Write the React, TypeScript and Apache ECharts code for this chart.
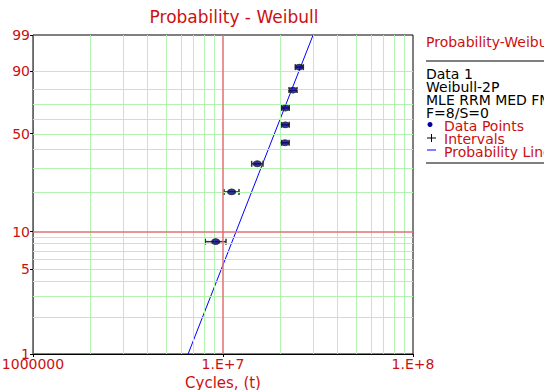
import React, { useEffect, useRef } from "react";
import * as echarts from "echarts";

// ---- data ----
const cycles = [9.15e6, 1.11e7, 1.515e7, 2.12e7, 2.128e7, 2.13e7, 2.335e7, 2.52e7];
const unreliability = [8.33, 20.24, 32.14, 44.05, 55.95, 67.86, 79.76, 91.67];
const intervalLow = [8.07e6, 1.012e7, 1.416e7, 2.03e7, 2.03e7, 2.03e7, 2.225e7, 2.402e7];
const intervalHigh = [1.037e7, 1.214e7, 1.624e7, 2.23e7, 2.23e7, 2.23e7, 2.452e7, 2.647e7];
const lineCycles = [6.55e6, 2.98e7];
const lineUnrel = [1, 99];
const yTickLabels = [1, 5, 10, 50, 90, 99];
const yGridMinor = [2, 3, 4, 5, 6, 7, 8, 9, 20, 30, 40, 50, 60, 70, 80, 90];
const yGridMajor = [10];
const xGridMinor = [2e6, 3e6, 4e6, 5e6, 6e6, 7e6, 8e6, 9e6, 2e7, 3e7, 4e7, 5e7, 6e7, 7e7, 8e7, 9e7];
const xGridMajor = [1e7];
const legendInfo = ["Data 1", "Weibull-2P", "MLE RRM MED FM", "F=8/S=0"];
const legendItems = ["Data Points", "Intervals", "Probability Line"];

const wb = (p: number) => Math.log(-Math.log(1 - p / 100));
const RED = "#cc1010";
const FONT = "DejaVu Sans";

export default function App() {
  const ref = useRef<HTMLDivElement>(null);
  useEffect(() => {
    if (!ref.current) return;
    const chart = echarts.init(ref.current, null, { renderer: "svg" });
    const green = { color: "#b4f2b4", width: 1, type: "solid" as const };
    const redLine = { color: "#e07070", width: 1.5, type: "solid" as const };
    const gridMarks = [
      ...xGridMinor.map((v) => ({ xAxis: v, lineStyle: green })),
      ...yGridMinor.map((v) => ({ yAxis: wb(v), lineStyle: green })),
      ...xGridMajor.map((v) => ({ xAxis: v, lineStyle: redLine })),
      ...yGridMajor.map((v) => ({ yAxis: wb(v), lineStyle: redLine })),
    ];
    const legendY0 = 74;
    const graphics: any[] = [
      { type: "text", x: 234, y: 17, style: { text: "Probability - Weibull", fill: RED, font: `17px "${FONT}"`, textAlign: "center", textVerticalAlign: "middle" } },
      { type: "text", x: 426, y: 42, style: { text: "Probability-Weibull", fill: RED, font: `14px "${FONT}"`, textVerticalAlign: "middle" } },
      { type: "line", shape: { x1: 426, y1: 61, x2: 544, y2: 61 }, style: { stroke: "#555", lineWidth: 1.5 } },
      { type: "line", shape: { x1: 426, y1: 163, x2: 544, y2: 163 }, style: { stroke: "#555", lineWidth: 1.5 } },
      ...legendInfo.map((t, i) => ({ type: "text", x: 426, y: legendY0 + i * 13, style: { text: t, fill: "#000", font: `14px "${FONT}"`, textVerticalAlign: "middle" } })),
      ...legendItems.map((t, i) => ({ type: "text", x: 444, y: legendY0 + (i + 4) * 13, style: { text: t, fill: RED, font: `14px "${FONT}"`, textVerticalAlign: "middle" } })),
      { type: "circle", shape: { cx: 430, cy: 124.5, r: 2.5 }, style: { fill: "#0000a0" } },
      { type: "line", shape: { x1: 427, y1: 138, x2: 436, y2: 138 }, style: { stroke: "#000", lineWidth: 1 } },
      { type: "line", shape: { x1: 431.5, y1: 134, x2: 431.5, y2: 142 }, style: { stroke: "#000", lineWidth: 1 } },
      { type: "line", shape: { x1: 427, y1: 150, x2: 436, y2: 150 }, style: { stroke: "#0000ff", lineWidth: 1 } },
    ];
    chart.setOption({
      animation: false,
      textStyle: { fontFamily: FONT },
      grid: {
        left: 33, top: 35, width: 380, height: 319,
        show: true, borderColor: "#000", borderWidth: 1, backgroundColor: "transparent",
        containLabel: false, outerBoundsMode: "none",
      },
      xAxis: {
        type: "log",
        logBase: 10,
        min: 1e6,
        max: 1e8,
        axisLine: { onZero: false, lineStyle: { color: "#000" } },
        axisTick: { show: true, length: 3, lineStyle: { color: "#000" } },
        splitLine: { show: false },
        minorTick: { show: false },
        axisLabel: {
          color: RED,
          fontSize: 14,
          margin: 3,
          formatter: (v: number) => (Math.abs(v - 1e6) < 1 ? "1000000" : "1.E+" + Math.round(Math.log10(v))),
        },
        name: "Cycles, (t)",
        nameLocation: "middle",
        nameGap: 19,
        nameTextStyle: { color: RED, fontSize: 15 },
      },
      yAxis: {
        type: "value",
        min: wb(1),
        max: wb(99),
        axisLine: { show: true, onZero: false, lineStyle: { color: "#666" } },
        axisTick: { show: true, length: 3, customValues: yTickLabels.map(wb), lineStyle: { color: "#000" } },
        splitLine: { show: false },
        axisLabel: {
          color: RED,
          fontSize: 14,
          margin: 3,
          customValues: yTickLabels.map(wb),
          formatter: (v: number) => String(Math.round(100 * (1 - Math.exp(-Math.exp(v))))),
        },
      },
      graphic: graphics,
      series: [
        {
          type: "line",
          z: 1,
          silent: true,
          symbol: "none",
          data: [[1e6, wb(1)]],
          lineStyle: { opacity: 0 },
          markLine: { silent: true, symbol: ["none", "none"], label: { show: false }, animation: false, data: gridMarks },
        },
        {
          type: "line",
          z: 3,
          symbol: "none",
          data: lineCycles.map((c, i) => [c, wb(lineUnrel[i])]),
          lineStyle: { color: "#0000ff", width: 1 },
        },
        {
          type: "custom",
          z: 4,
          data: intervalLow.map((l, i) => [l, intervalHigh[i], wb(unreliability[i])]),
          encode: { x: [0, 1], y: 2 },
          renderItem: (_p: any, api: any) => {
            const lo = api.coord([api.value(0), api.value(2)]);
            const hi = api.coord([api.value(1), api.value(2)]);
            const y = lo[1];
            const st = { stroke: "#333", lineWidth: 1.5 };
            return {
              type: "group",
              children: [
                { type: "line", shape: { x1: lo[0], y1: y, x2: hi[0], y2: y }, style: st },
                { type: "line", shape: { x1: lo[0], y1: y - 3, x2: lo[0], y2: y + 3 }, style: st },
                { type: "line", shape: { x1: hi[0], y1: y - 3, x2: hi[0], y2: y + 3 }, style: st },
              ],
            };
          },
        },
        {
          type: "scatter",
          z: 5,
          symbol: "circle",
          symbolSize: [8, 6],
          data: cycles.map((c, i) => [c, wb(unreliability[i])]),
          itemStyle: { color: "#00008b", borderColor: "#222", borderWidth: 1 },
        },
      ],
    });
    return () => chart.dispose();
  }, []);
  return <div ref={ref} style={{ position: "absolute", left: 0, top: 0, width: 544, height: 390 }} />;
}
